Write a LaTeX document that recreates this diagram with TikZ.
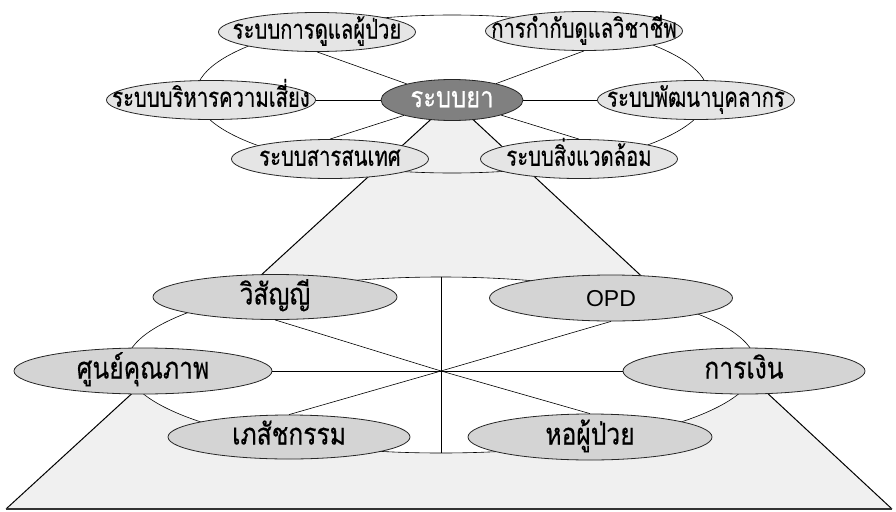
\documentclass[tikz,border=0pt]{standalone}
\usepackage{fontspec}
\setmainfont{Liberation Sans}
\newfontfamily\thaitop[Script=Thai, FakeStretch=0.75, FakeBold=0.4]{Loma}
\newfontfamily\thaicore[Script=Thai, FakeStretch=0.82, FakeBold=0.4]{Loma}
\newfontfamily\thailow[Script=Thai, FakeStretch=0.82, FakeBold=0.4]{Loma}
\usetikzlibrary{shapes.geometric}
\definecolor{satfill}{gray}{0.90}
\definecolor{corefill}{gray}{0.50}
\definecolor{lowfill}{gray}{0.83}
\definecolor{pyrfill}{gray}{0.94}
\newcommand{\ovtext}[1]{\makebox[0pt]{#1}}
\begin{document}
\begin{tikzpicture}[x=1pt,y=-1pt,
  oval/.style={ellipse, draw=black!85, line width=0.8pt, inner sep=0pt, text depth=0pt},
  topsat/.style={oval, fill=satfill, minimum width=197pt, minimum height=39pt, text height=13.5pt,
    font=\thaitop\fontsize{27}{27}\selectfont},
  core/.style={oval, fill=corefill, text=white, minimum width=142pt, minimum height=41pt, text height=14.5pt,
    font=\thaicore\fontsize{29}{29}\selectfont},
  lowsat/.style={oval, fill=lowfill, minimum width=243pt, minimum height=45pt, text height=15pt,
    font=\thailow\fontsize{30}{30}\selectfont},
  ring/.style={ellipse, draw, line width=0.6pt, inner sep=0pt},
  spoke/.style={line width=0.6pt},
  edge/.style={line width=1pt},
]
\useasboundingbox (0,0) rectangle (896,511);

% base triangle of the pyramid
\coordinate (apex) at (452,100);
\coordinate (bl) at (6,509);
\coordinate (br) at (892,509);
\fill[pyrfill] (apex) -- (bl) -- (br) -- cycle;
\draw[edge] (bl) -- (apex) -- (br);
\draw[line width=2pt, black!80] (bl) -- (br);

% the two rings
\node[ring, minimum width=512pt, minimum height=158pt] (tring) at (452,94) {};
\node[ring, fill=white, minimum width=630pt, minimum height=176pt] (lring) at (441,365) {};

% upper wheel
\node[core] (drug) at (452,100) {\ovtext{ระบบยา}};
\node[topsat] (care) at (317,32) {\ovtext{ระบบการดูแลผู้ป่วย}};
\node[topsat] (prof) at (584,31) {\ovtext{การกำกับดูแลวิชาชีพ}};
\node[topsat, minimum width=209pt] (risk) at (211,100) {\ovtext{ระบบบริหารความเสี่ยง}};
\node[topsat] (hr) at (696,100) {\ovtext{ระบบพัฒนาบุคลากร}};
\node[topsat] (info) at (330,159) {\ovtext{ระบบสารสนเทศ}};
\node[topsat] (env) at (579,159) {\ovtext{ระบบสิ่งแวดล้อม}};

\draw[spoke] (care.south) -- (drug);
\draw[spoke] (prof.south) -- (drug);
\draw[spoke] (risk.east) -- (drug.west);
\draw[spoke] (hr.west) -- (drug.east);
\draw[spoke] (info.north) -- (drug);
\draw[spoke] (env.north) -- (drug);

% lower wheel
\coordinate (hub) at (441,371);
\node[lowsat, minimum width=244pt] (wis) at (275,297) {\ovtext{วิสัญญี}};
\node[lowsat, minimum height=46pt, text height=16pt] (opd) at (611,298) {\ovtext{\normalfont\fontsize{23}{23}\selectfont OPD}};
\node[lowsat, minimum width=258pt, minimum height=46pt] (qual) at (143,371) {\ovtext{ศูนย์คุณภาพ}};
\node[lowsat, minimum width=242pt, minimum height=46pt] (fin) at (744,371) {\ovtext{การเงิน}};
\node[lowsat, minimum width=242pt, minimum height=44pt] (pharm) at (289,437) {\ovtext{เภสัชกรรม}};
\node[lowsat, minimum width=244pt, minimum height=46pt] (ward) at (590,437) {\ovtext{หอผู้ป่วย}};

\draw[spoke] (lring.north) -- (lring.south);
\draw[spoke] (hub) -- (wis.south);
\draw[spoke] (hub) -- (opd.south);
\draw[spoke] (hub) -- (qual.east);
\draw[spoke] (hub) -- (fin.west);
\draw[spoke] (hub) -- (pharm.north);
\draw[spoke] (hub) -- (ward.north);
\end{tikzpicture}
\end{document}
